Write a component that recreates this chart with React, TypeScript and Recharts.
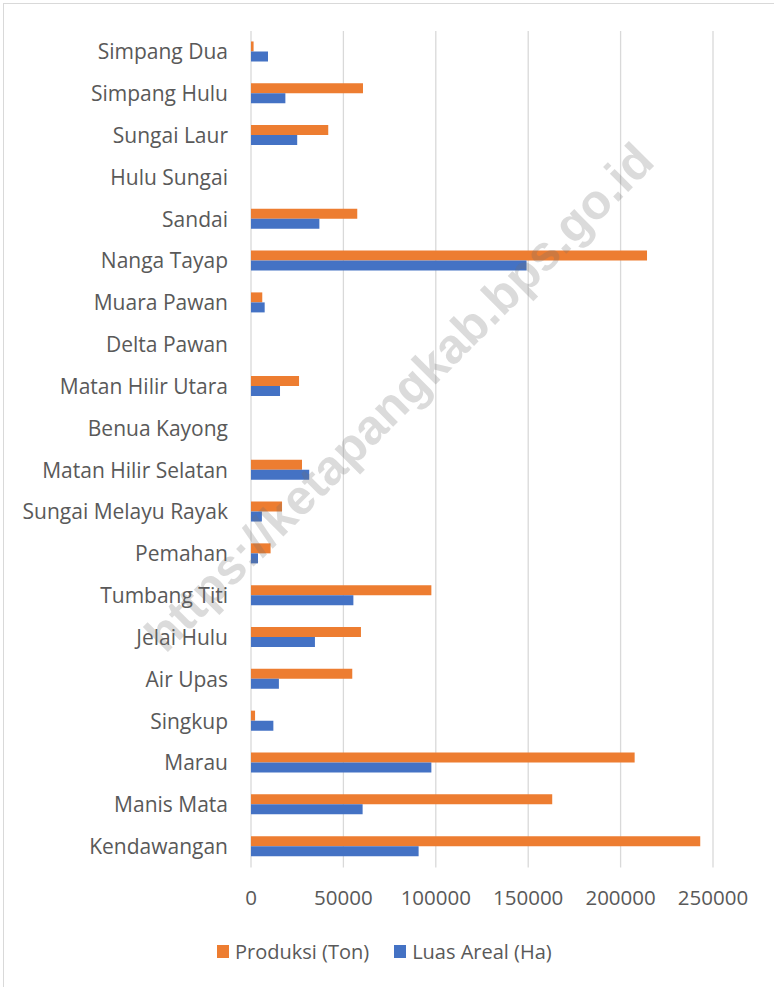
import { BarChart, Bar, XAxis, YAxis, CartesianGrid, Legend } from "recharts";

const KECAMATAN = [
  "Simpang Dua",
  "Simpang Hulu",
  "Sungai Laur",
  "Hulu Sungai",
  "Sandai",
  "Nanga Tayap",
  "Muara Pawan",
  "Delta Pawan",
  "Matan Hilir Utara",
  "Benua Kayong",
  "Matan Hilir Selatan",
  "Sungai Melayu Rayak",
  "Pemahan",
  "Tumbang Titi",
  "Jelai Hulu",
  "Air Upas",
  "Singkup",
  "Marau",
  "Manis Mata",
  "Kendawangan",
];

const PRODUKSI = [
  1400, 60600, 41800, 0, 57500, 214300, 6100, 0, 26000, 0, 27600, 16800, 10600,
  97600, 59500, 54800, 2200, 207600, 163000, 243100,
];

const LUAS_AREAL = [
  9200, 18600, 25000, 0, 37000, 149100, 7400, 0, 15700, 0, 31500, 5900, 3800,
  55400, 34600, 15100, 12100, 97600, 60400, 90700,
];

const X_TICKS = [0, 50000, 100000, 150000, 200000, 250000];
const SERIES_ORDER = ["produksi", "luas"];

const ORANGE = "#ed7d31";
const BLUE = "#4472c4";
const TEXT = "#595959";
const FONT = "'Open Sans', sans-serif";

const data = KECAMATAN.map((name, i) => ({
  name,
  produksi: PRODUKSI[i],
  luas: LUAS_AREAL[i],
}));

function LegendBox({ payload }: any) {
  // keep series order (legend sorts by name otherwise)
  const items = [...(payload || [])].sort(
    (a: any, b: any) => SERIES_ORDER.indexOf(a.dataKey) - SERIES_ORDER.indexOf(b.dataKey)
  );
  return (
    <div style={{ display: "flex", alignItems: "center", fontFamily: FONT, fontSize: 20, color: TEXT }}>
      {items.map((p: any, i: number) => (
        <div key={p.value} style={{ display: "flex", alignItems: "center", marginLeft: i === 0 ? 217 : 25 }}>
          <span style={{ width: 12, height: 13, background: p.color, display: "inline-block", marginRight: 6 }} />
          <span>{p.value}</span>
        </div>
      ))}
    </div>
  );
}

export default function App() {
  return (
    <div style={{ position: "absolute", left: 0, top: 0, width: 774, height: 987, background: "#fff" }}>
      <div style={{ position: "absolute", left: 3, top: 3, width: 771, height: 984, borderLeft: "1px solid #d9d9d9", borderTop: "1px solid #d9d9d9" }} />
      <BarChart
        width={774}
        height={987}
        data={data}
        layout="vertical"
        margin={{ top: 31, right: 61, left: 0, bottom: 89.5 }}
        barCategoryGap="25%"
        barGap={0}
      >
        <CartesianGrid horizontal={false} stroke="#d9d9d9" strokeWidth={1.3} />
        <XAxis
          type="number"
          domain={[0, 250000]}
          ticks={X_TICKS}
          axisLine={false}
          tickLine={false}
          tickSize={0}
          tickMargin={23}
          interval={0}
          tick={{ fill: TEXT, fontSize: 20.5, fontFamily: FONT }}
        />
        <YAxis
          type="category"
          dataKey="name"
          width={251}
          axisLine={false}
          tickLine={false}
          tickSize={0}
          tickMargin={23}
          interval={0}
          tick={{ fill: TEXT, fontSize: 21, fontFamily: FONT }}
        />
        <Legend
          layout="horizontal"
          verticalAlign="middle"
          align="center"
          content={<LegendBox />}
          wrapperStyle={{ left: 0, top: 938, width: 774 }}
        />
        <Bar dataKey="produksi" name="Produksi (Ton)" fill={ORANGE} isAnimationActive={false} />
        <Bar dataKey="luas" name="Luas Areal (Ha)" fill={BLUE} isAnimationActive={false} />
      </BarChart>
      <div
        style={{
          position: "absolute",
          left: 399,
          top: 397,
          transform: "translate(-50%, -50%) rotate(-45deg)",
          whiteSpace: "nowrap",
          fontFamily: "'Liberation Sans', sans-serif",
          fontWeight: 700,
          fontSize: 49,
          color: "rgba(110,110,110,0.25)",
          pointerEvents: "none",
        }}
      >
        https://ketapangkab.bps.go.id
      </div>
    </div>
  );
}
